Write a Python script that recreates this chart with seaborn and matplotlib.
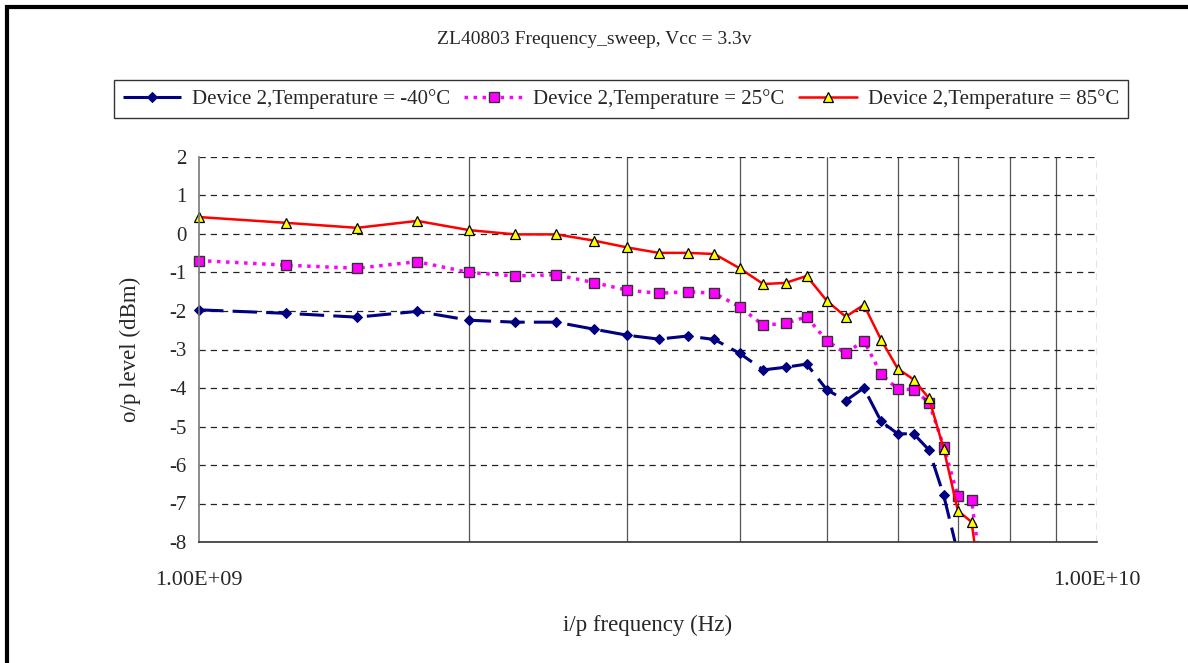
import matplotlib
matplotlib.use("Agg")
from matplotlib import pyplot as plt
from matplotlib.patches import Rectangle
from matplotlib.ticker import FixedLocator, NullFormatter
import pandas as pd
import seaborn as sns

# frequencies in GHz, 0.25 GHz steps
freq_ghz = [1.0, 1.25, 1.5, 1.75, 2.0, 2.25, 2.5, 2.75, 3.0, 3.25, 3.5, 3.75,
            4.0, 4.25, 4.5, 4.75, 5.0, 5.25, 5.5, 5.75, 6.0, 6.25, 6.5, 6.75,
            7.0, 7.25, 7.5]

level_m40 = [-1.97, -2.06, -2.16, -2.01, -2.24, -2.29, -2.29, -2.47, -2.63,
             -2.73, -2.65, -2.74, -3.10, -3.53, -3.46, -3.38, -4.04, -4.33,
             -4.00, -4.87, -5.19, -5.19, -5.61, -6.79, -8.30]
level_25 = [-0.69, -0.81, -0.89, -0.72, -1.00, -1.09, -1.06, -1.26, -1.46,
            -1.54, -1.50, -1.54, -1.89, -2.37, -2.32, -2.15, -2.77, -3.10,
            -2.77, -3.64, -4.03, -4.04, -4.38, -5.52, -6.81, -6.91, -9.50]
level_85 = [0.44, 0.29, 0.16, 0.34, 0.10, -0.01, -0.01, -0.17, -0.35, -0.49,
            -0.49, -0.52, -0.89, -1.30, -1.27, -1.09, -1.73, -2.15, -1.84,
            -2.75, -3.50, -3.78, -4.27, -5.58, -7.19, -7.48, -10.0]

labels = ["Device 2,Temperature = -40°C", "Device 2,Temperature = 25°C",
          "Device 2,Temperature = 85°C"]

sns.set_style("white")
plt.rcParams["font.family"] = ["Liberation Serif", "DejaVu Serif"]
plt.rcParams["font.size"] = 12
plt.rcParams["axes.unicode_minus"] = False

fig = plt.figure(figsize=(11.88, 6.63), dpi=100)
ax = fig.add_axes([199 / 1188, 1 - 542 / 663, 898 / 1188, 385 / 663])

df_m40 = pd.DataFrame({"f": [f * 1e9 for f in freq_ghz[:len(level_m40)]],
                       "v": level_m40})
df_25 = pd.DataFrame({"f": [f * 1e9 for f in freq_ghz], "v": level_25})
df_85 = pd.DataFrame({"f": [f * 1e9 for f in freq_ghz], "v": level_85})

sns.lineplot(data=df_m40, x="f", y="v", ax=ax, color="#000080", lw=2.2,
             linestyle=(0, (8, 3)), marker="D", ms=5,
             mec="#000080", mfc="#000080", label=labels[0])
sns.lineplot(data=df_25, x="f", y="v", ax=ax, color="#FF00FF", lw=2.5,
             linestyle=(0, (1, 1.6)), marker="s", ms=7, mec="#333333",
             mew=1.0, mfc="#FF00FF", label=labels[1])
sns.lineplot(data=df_85, x="f", y="v", ax=ax, color="#FF0000", lw=1.8,
             marker="^", ms=7.5, mec="black", mew=0.9, mfc="#FFFF00",
             label=labels[2])

# clip only at the bottom/top, so markers on the left edge stay whole
clip = Rectangle((-0.03, 0), 1.06, 1.05, transform=ax.transAxes)
for ln in ax.get_lines():
    ln.set_clip_path(clip)

ax.set_xscale("log")
ax.set_xlim(1e9, 1e10)
ax.set_ylim(-8, 2)
ax.set_yticks(range(-8, 3))
ax.set_xticks([1e9, 1e10])
ax.set_xticklabels(["1.00E+09", "1.00E+10"])
ax.xaxis.set_minor_locator(FixedLocator([k * 1e9 for k in range(2, 10)]))
ax.xaxis.set_minor_formatter(NullFormatter())

ax.grid(True, axis="y", which="major", color="#222222", ls=(0, (5, 4)), lw=0.9)
ax.grid(True, axis="x", which="minor", color="#555555", ls="-", lw=0.9)
ax.axvline(1e10, color="#777777", ls=(0, (5, 4)), lw=1.0)
ax.set_axisbelow(True)

for s in ["top", "right"]:
    ax.spines[s].set_visible(False)
ax.spines["left"].set_color("#777777")
ax.spines["left"].set_linewidth(1.2)
ax.spines["bottom"].set_color("#333333")
ax.spines["bottom"].set_linewidth(1.2)

ax.tick_params(axis="y", which="major", direction="inout", length=8,
               color="#333333", labelsize=15, pad=5)
ax.tick_params(axis="x", which="major", direction="out", length=5,
               color="#333333", labelsize=16, pad=16)
ax.tick_params(axis="x", which="minor", length=0)
ax.set_xlabel("")
ax.set_ylabel("")

fig.text(0.5, 1 - 40 / 663, "ZL40803 Frequency_sweep, Vcc = 3.3v",
         ha="center", va="center", fontsize=14)
fig.text(648 / 1188, 1 - 625 / 663, "i/p frequency (Hz)", ha="center",
         va="center", fontsize=16.5)
fig.text(130 / 1188, 1 - 349 / 663, "o/p level (dBm)", ha="center",
         va="center", rotation=90, fontsize=16.5)

leg = ax.legend(loc="center", bbox_to_anchor=(621 / 1188, 1 - 99 / 663),
                bbox_transform=fig.transFigure, ncol=3, frameon=True,
                fancybox=False, edgecolor="black", fontsize=15,
                handlelength=2.8, columnspacing=0.7, handletextpad=0.5,
                borderpad=0.45, borderaxespad=0)
leg.get_frame().set_linewidth(1.0)

fig.patches.append(Rectangle((7 / 1188, -0.1), 1.2, 1 - 7 / 663 + 0.1,
                             transform=fig.transFigure, fill=False,
                             edgecolor="black", lw=3))

fig.savefig("out.png", dpi=100, facecolor="white")
